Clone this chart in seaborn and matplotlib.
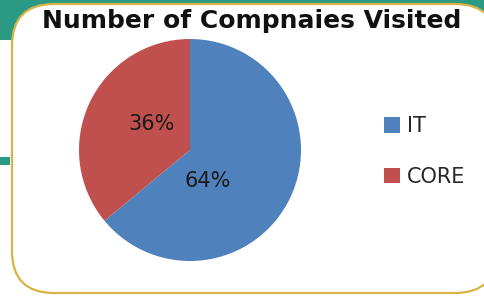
import matplotlib
matplotlib.use("Agg")
import matplotlib.pyplot as plt
from matplotlib.patches import Rectangle, FancyBboxPatch, Patch
import seaborn as sns

# Data
categories = ["IT", "CORE"]
shares = [64, 36]
title = "Number of Compnaies Visited"

sns.set_theme(style="white")
plt.rcParams['font.family'] = ['DejaVu Sans']
palette = sns.color_palette(["#4F81BD", "#C0504D"])

W, H = 485, 300
fig = plt.figure(figsize=(W / 100, H / 100), dpi=100)
fig.patch.set_facecolor("white")

# Background decorations (pixel coordinates)
bg = fig.add_axes([0, 0, 1, 1])
bg.set_xlim(0, W)
bg.set_ylim(H, 0)
bg.axis("off")
teal = "#2A9A82"
bg.add_patch(Rectangle((0, 0), W, 40, facecolor=teal, edgecolor="none"))
bg.add_patch(Rectangle((0, 157), 10, 8, facecolor=teal, edgecolor="none"))
bg.add_patch(FancyBboxPatch((12, 4), 485, 289,
                            boxstyle="round,pad=0,rounding_size=42",
                            facecolor="white", edgecolor="#D9B444", lw=1.6))

# Title
fig.text(252 / W, 1 - 28 / H, title, ha="center", va="baseline",
         fontsize=18, fontweight="bold", color="#111111")

# Pie
cx, cy, r = 190, 150, 111
ax = fig.add_axes([(cx - r) / W, (H - cy - r) / H, 2 * r / W, 2 * r / H])
wedges, texts, autotexts = ax.pie(shares, colors=palette, startangle=90,
                                  counterclock=False, autopct="%1.0f%%",
                                  wedgeprops=dict(linewidth=0),
                                  textprops=dict(fontsize=15, color="#1a1a1a"))
autotexts[0].set_position((0.16, -0.28))
autotexts[1].set_position((-0.35, 0.23))
for t in autotexts:
    t.set_ha("center")
    t.set_va("center")
ax.set_xlim(-1, 1)
ax.set_ylim(-1, 1)
ax.set_aspect("equal")
ax.axis("off")

# Legend
handles = [Patch(facecolor=c, edgecolor="none") for c in palette]
leg = fig.legend(handles, categories, loc="upper left",
                 bbox_to_anchor=(376 / W, 1 - 108 / H), frameon=False,
                 fontsize=15, handlelength=0.75, handleheight=0.75,
                 handletextpad=0.35, labelspacing=1.45, borderaxespad=0)
for t in leg.get_texts():
    t.set_color("#262626")

fig.savefig("out.png", dpi=100, facecolor="white")
